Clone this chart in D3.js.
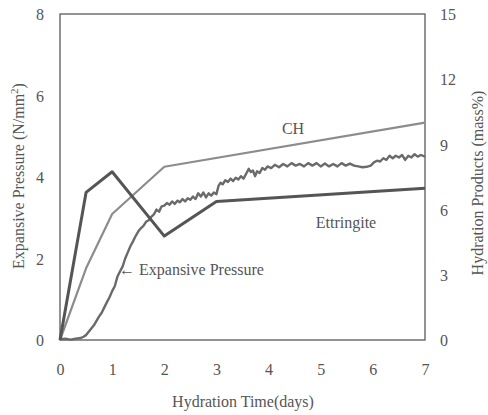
<!DOCTYPE html>
<html><head><meta charset="utf-8">
<script src="https://cdn.jsdelivr.net/npm/d3@7"></script>
</head><body style="margin:0;background:#fff"><svg id="c" width="488" height="415"></svg>
<script>
const xTicks=[0,1,2,3,4,5,6,7];
const leftTicks=[0,2,4,6,8];
const rightTicks=[0,3,6,9,12,15];
const ettDays=[0,0.5,1,2,3,7];
const ettVals=[0,6.79,7.74,4.78,6.37,6.98];
const chDays=[0,0.5,1,2,7];
const chVals=[0,3.3,5.8,7.97,10.0];
const pDays=[0,0.1,0.2,0.3,0.4,0.45,0.5,0.55,0.6,0.65,0.7,0.75,0.8,0.85,0.9,0.95,1.0,1.05,1.1,1.15,1.2,1.25,1.3,1.35,1.4,1.45,1.5,1.55,1.6,1.65,1.7,1.75,1.8,1.85,1.9,1.95,2.0,2.05,2.1,2.15,2.2,2.25,2.3,2.35,2.4,2.45,2.5,2.55,2.6,2.65,2.7,2.75,2.8,2.85,2.9,2.95,3.0,3.04,3.08,3.12,3.17,3.22,3.27,3.32,3.37,3.42,3.47,3.52,3.57,3.62,3.66,3.7,3.74,3.78,3.83,3.88,3.93,3.98,4.05,4.12,4.2,4.28,4.36,4.44,4.52,4.6,4.68,4.76,4.84,4.92,5.0,5.08,5.16,5.24,5.32,5.4,5.48,5.56,5.64,5.72,5.8,5.88,5.96,6.02,6.08,6.14,6.2,6.26,6.32,6.38,6.44,6.5,6.56,6.62,6.68,6.74,6.8,6.86,6.92,7.0];
const pVals=[0.02,0.03,0.01,0.03,0.05,0.08,0.12,0.2,0.28,0.36,0.47,0.58,0.67,0.8,0.93,1.05,1.2,1.32,1.55,1.68,1.8,2.0,2.15,2.3,2.42,2.55,2.66,2.74,2.8,2.9,2.94,3.02,3.08,3.2,3.15,3.28,3.3,3.36,3.32,3.4,3.34,3.42,3.38,3.46,3.4,3.48,3.44,3.52,3.46,3.6,3.52,3.62,3.5,3.6,3.54,3.62,3.58,3.78,3.86,3.82,3.92,3.88,3.96,3.9,3.98,3.94,4.02,3.96,4.08,4.2,4.12,4.16,4.02,4.14,4.1,4.22,4.18,4.26,4.22,4.3,4.24,4.32,4.26,4.34,4.28,4.32,4.26,4.34,4.28,4.34,4.26,4.33,4.26,4.32,4.26,4.34,4.28,4.33,4.28,4.26,4.24,4.25,4.28,4.36,4.4,4.38,4.46,4.42,4.52,4.46,4.52,4.48,4.54,4.42,4.52,4.48,4.56,4.5,4.54,4.5];

const svg=d3.select("#c");
const L=60,R=425,T=14,B=340;
const x=d3.scaleLinear().domain([0,7]).range([L,R]);
const yL=d3.scaleLinear().domain([0,8]).range([B,T]);
const yR=d3.scaleLinear().domain([0,15]).range([B,T]);

svg.append("rect").attr("x",L).attr("y",T).attr("width",R-L).attr("height",B-T)
  .attr("fill","none").attr("stroke","#5a5a5a").attr("stroke-width",1.3);

function label(sel){return sel.attr("font-family","Liberation Serif").attr("font-size",16).attr("fill","#555");}
function tickFix(g){
  g.attr("font-family",null).attr("font-size",null);
  g.select(".domain").remove();
  label(g.selectAll("text"));
}
const ax=d3.axisBottom(x).tickValues(xTicks).tickFormat(d3.format("d")).tickSize(0).tickPadding(0);
const gx=svg.append("g").attr("transform",`translate(0,${B})`).call(ax);
tickFix(gx);
gx.selectAll("text").attr("dy",null).attr("y",35);

const al=d3.axisLeft(yL).tickValues(leftTicks).tickFormat(d3.format("d")).tickSize(0).tickPadding(0);
const gl=svg.append("g").attr("transform",`translate(${L},0)`).call(al);
tickFix(gl);
gl.selectAll("text").attr("x",-20).attr("dy","0.35em").attr("text-anchor","middle");

const ar=d3.axisRight(yR).tickValues(rightTicks).tickFormat(d3.format("d")).tickSize(0).tickPadding(0);
const gr=svg.append("g").attr("transform",`translate(${R},0)`).call(ar);
tickFix(gr);
gr.selectAll("text").attr("x",15).attr("dy","0.35em").attr("text-anchor","start");

label(svg.append("text").attr("x",243).attr("y",407).attr("text-anchor","middle")).text("Hydration Time(days)");
const lt=label(svg.append("text").attr("transform","translate(24,176) rotate(-90)").attr("text-anchor","middle"));
lt.append("tspan").text("Expansive Pressure (N/mm");
lt.append("tspan").attr("dy","-6").attr("font-size",11).text("2");
lt.append("tspan").attr("dy","6").text(")");
label(svg.append("text").attr("transform","translate(483,183) rotate(-90)").attr("text-anchor","middle")).text("Hydration Products (mass%)");

const lineR=d3.line().x(d=>x(d[0])).y(d=>yR(d[1]));
const lineL=d3.line().x(d=>x(d[0])).y(d=>yL(d[1]));
svg.append("path").datum(chDays.map((d,i)=>[d,chVals[i]])).attr("d",lineR)
  .attr("fill","none").attr("stroke","#8c8c8c").attr("stroke-width",2.2).attr("stroke-linejoin","round");
svg.append("path").datum(pDays.map((d,i)=>[d,pVals[i]])).attr("d",lineL)
  .attr("fill","none").attr("stroke","#6a6a6a").attr("stroke-width",2.4).attr("stroke-linejoin","round");
svg.append("path").datum(ettDays.map((d,i)=>[d,ettVals[i]])).attr("d",lineR)
  .attr("fill","none").attr("stroke","#555").attr("stroke-width",3).attr("stroke-linejoin","round");

label(svg.append("text").attr("x",293).attr("y",134).attr("text-anchor","middle")).text("CH");
label(svg.append("text").attr("x",346).attr("y",228).attr("text-anchor","middle")).text("Ettringite");
label(svg.append("text").attr("x",119).attr("y",275)).text("\u2190 Expansive Pressure");
</script></body></html>
